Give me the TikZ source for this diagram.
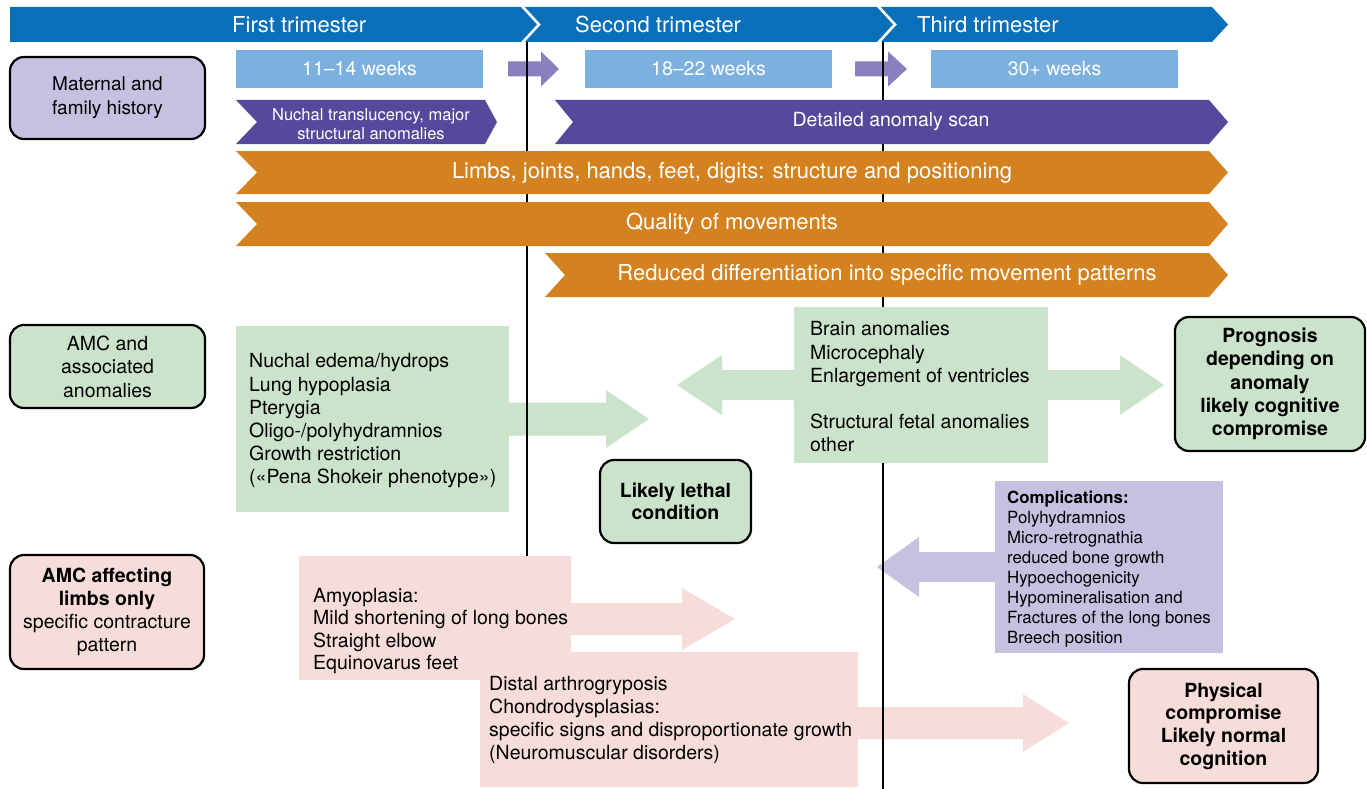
\documentclass[tikz,border=0pt]{standalone}
\usepackage{fontspec}
\setmainfont{TeX Gyre Heros}
\newcommand{\fsz}[2]{\fontsize{#1}{#2}\selectfont}
\definecolor{bannerblue}{HTML}{0A6FB9}
\definecolor{weekblue}{HTML}{7BB0DF}
\definecolor{darkpurple}{HTML}{57489C}
\definecolor{lightpurple}{HTML}{8A80C0}
\definecolor{bandorange}{HTML}{D4821F}
\definecolor{softgreen}{HTML}{CBE3CA}
\definecolor{lavender}{HTML}{C7C1E1}
\definecolor{softpink}{HTML}{F6DDDA}
% color, xstart, xheadbase, xtip, ymid, halfshaft, halfhead
\newcommand{\blockarrow}[7]{\fill[#1] (#2,#5-#6) -- (#3,#5-#6) -- (#3,#5-#7) -- (#4,#5) -- (#3,#5+#7) -- (#3,#5+#6) -- (#2,#5+#6) -- cycle;}
% color, x1, x2, ytop, ybot, notch, point
\newcommand{\chevband}[7]{\fill[#1] (#2,#4) -- (#3,#4) -- (#3+#7,{(#4+#5)/2}) -- (#3,#5) -- (#2,#5) -- (#2+#6,{(#4+#5)/2}) -- cycle;}
\begin{document}
\begin{tikzpicture}[x=1pt,y=-1pt,
  rbox/.style={draw=black, line width=2.2pt, rounded corners=14pt, align=center, inner sep=0pt, text=black},
  ltxt/.style={inner sep=0pt, align=left, anchor=west, text=black},
  wtxt/.style={inner sep=0pt, align=center, text=white},
  weekbox/.style={fill=weekblue, text=white, inner sep=0pt, minimum width=247pt, minimum height=38pt, font=\fsz{19.5}{23}},
  vline/.style={line width=2.2pt, black}
]
\useasboundingbox (0,0) rectangle (1367,789);

% banner
\fill[bannerblue] (10,7) -- (1212,7) -- (1228,24.5) -- (1212,42) -- (10,42) -- cycle;
\draw[white, line width=2.6pt] (521,5) -- (539,24.5) -- (521,44);
\draw[white, line width=2.6pt] (877,5) -- (895,24.5) -- (877,44);
\node[wtxt, anchor=west, font=\fsz{22}{26}] (t1) at (232,24.5) {First trimester};
\node[wtxt, anchor=west, font=\fsz{22}{26}] (t2) at (575,24.5) {Second trimester};
\node[wtxt, anchor=west, font=\fsz{22}{26}] (t3) at (917,24.5) {Third trimester};

% arrows below the trimester lines
\blockarrow{lightpurple}{508}{541}{559}{69}{7.5}{17.5}
\blockarrow{lightpurple}{855}{888}{907}{69}{7.5}{17.5}
\blockarrow{softgreen}{505}{606}{649}{419}{16.5}{29}
\blockarrow{lavender}{997}{919}{877}{567}{15}{30}
\blockarrow{softpink}{856}{1023}{1069}{723}{16}{29}

% trimester boundaries
\draw[vline] (527,42) -- (527,787);
\draw[vline] (883,42) -- (883,789);

% week boxes
\node[weekbox] (w1) at (359.5,69) {11–14 weeks};
\node[weekbox] (w2) at (708.5,69) {18–22 weeks};
\node[weekbox] (w3) at (1054.5,69) {30+ weeks};

% bands
\chevband{darkpurple}{236}{485}{100}{144}{21}{12}
\node[wtxt, font=\fsz{16.5}{18.5}] (nt) at (371,124) {Nuchal translucency, major\\structural anomalies};
\chevband{darkpurple}{555}{1209}{100}{144}{18}{19}
\node[wtxt, font=\fsz{19.5}{23}] (da) at (891,122) {Detailed anomaly scan};
\chevband{bandorange}{236}{1209}{151}{194}{21}{19}
\node[wtxt, font=\fsz{22}{26}] (lj) at (732,172.5) {Limbs, joints, hands, feet, digits: structure and positioning};
\chevband{bandorange}{236}{1209}{202}{246}{21}{19}
\node[wtxt, font=\fsz{22}{26}] (qm) at (732,224) {Quality of movements};
\chevband{bandorange}{545}{1209}{253}{297}{20}{19}
\node[wtxt, font=\fsz{22}{26}] (rd) at (887,275) {Reduced differentiation into specific movement patterns};

% left category boxes
\node[rbox, fill=lavender, minimum width=195pt, minimum height=82pt, font=\fsz{19}{24}] (mat) at (107.5,98) {Maternal and\\family history};
\node[rbox, fill=softgreen, minimum width=195pt, minimum height=83pt, font=\fsz{19.5}{23.5}] (amc) at (107.5,366.5) {AMC and\\associated\\anomalies};
\node[rbox, fill=softpink, minimum width=194pt, minimum height=114pt, font=\fsz{19.5}{23}] (limbs) at (107,612) {\textbf{AMC affecting}\\\textbf{limbs only}\\specific contracture\\pattern};

% green list box
\fill[softgreen] (236,326) rectangle (509,512);
\node[ltxt, font=\fsz{19.5}{23.2}] (list) at (249,421) {Nuchal edema/hydrops\\Lung hypoplasia\\Pterygia\\Oligo-/polyhydramnios\\Growth restriction\\(«Pena Shokeir phenotype»)};

% brain anomalies box with double arrow
\blockarrow{softgreen}{796}{722}{677}{385}{15}{30}
\blockarrow{softgreen}{1046}{1120}{1164}{385}{15}{30}
\fill[softgreen] (794,307) rectangle (1048,463);
\node[ltxt, font=\fsz{19.5}{23.2}] (brain) at (810,387) {Brain anomalies\\Microcephaly\\Enlargement of ventricles\\[23.2pt]Structural fetal anomalies\\other};

% outcome boxes
\node[rbox, fill=softgreen, minimum width=151pt, minimum height=83pt, font=\bfseries\fsz{19.5}{22}] (lethal) at (675.5,501.5) {Likely lethal\\condition};
\node[rbox, fill=softgreen, minimum width=190pt, minimum height=134pt, font=\bfseries\fsz{19.5}{23.2}] (prog) at (1270,384) {Prognosis\\depending on\\anomaly\\likely cognitive\\compromise};
\node[rbox, fill=softpink, minimum width=189pt, minimum height=114pt, font=\bfseries\fsz{19.5}{22.7}] (phys) at (1223.5,726) {Physical\\compromise\\Likely normal\\cognition};

% complications box
\fill[lavender] (995,481) rectangle (1223,653);
\node[ltxt, font=\fsz{16.8}{20}] (comp) at (1007,569) {\textbf{Complications:}\\Polyhydramnios\\Micro-retrognathia\\reduced bone growth\\Hypoechogenicity\\Hypomineralisation and\\Fractures of the long bones\\Breech position};

% pink boxes
\blockarrow{softpink}{569}{682}{735}{619}{16}{31}
\fill[softpink] (299,556) rectangle (571,680);
\fill[softpink] (480,652) rectangle (858,787);
\node[ltxt, font=\fsz{19.5}{22.5}] (amyo) at (313,631) {Amyoplasia:\\Mild shortening of long bones\\Straight elbow\\Equinovarus feet};
\node[ltxt, font=\fsz{19.5}{23.2}] (distal) at (489,720) {Distal arthrogryposis\\Chondrodysplasias:\\specific signs and disproportionate growth\\(Neuromuscular disorders)};
\end{tikzpicture}
\end{document}
